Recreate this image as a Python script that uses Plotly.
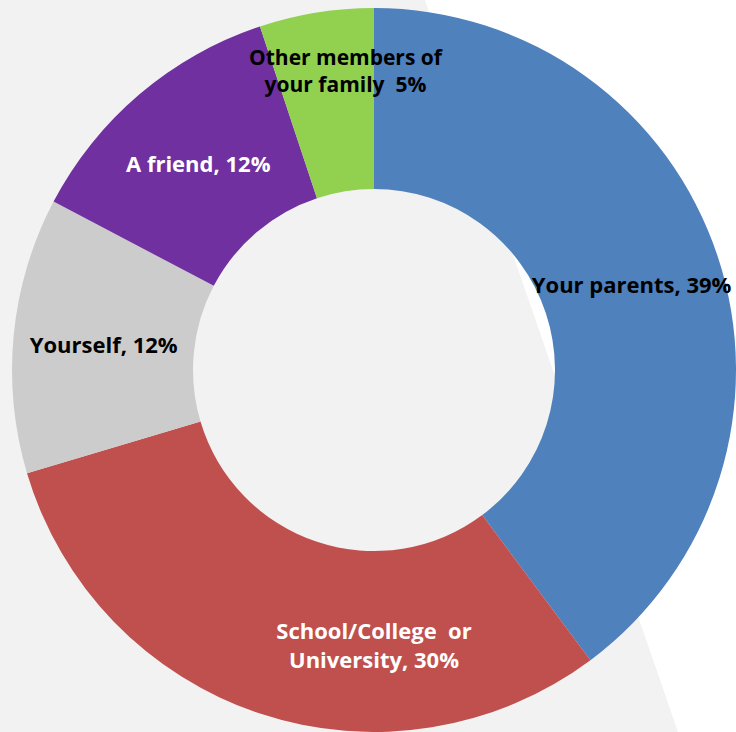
import plotly.graph_objects as go

# who did you get advice from - share of answers
categories = ["Your parents", "School/College or University", "Yourself",
              "A friend", "Other members of your family"]
values = [39.8, 30.6, 12.3, 12.2, 5.1]
slice_labels = ["Your parents, 39%", "School/College  or<br>University, 30%",
                "Yourself, 12%", "A friend, 12%",
                "Other members of<br>your family  5%"]

colors = ["#4f81bd", "#c0504d", "#cccccc", "#7030a0", "#92d050"]
text_colors = ["black", "white", "black", "white", "black"]

W, H = 736, 732
FONT = "Open Sans"
FSIZE = 22

fig = go.Figure()
fig.add_trace(go.Pie(
    labels=categories,
    values=values,
    text=slice_labels,
    textinfo="text",
    # the small slice gets its label placed by hand below
    textposition=["inside", "inside", "inside", "inside", "none"],
    insidetextorientation="horizontal",
    insidetextfont=dict(family=FONT, size=FSIZE, color=text_colors, weight="bold"),
    marker=dict(colors=colors, line=dict(width=0)),
    hole=0.5,
    sort=False,
    direction="clockwise",
    rotation=0,
    hoverinfo="none",
    showlegend=False,
    domain=dict(x=[12 / W, 1.0], y=[0.0, 1 - 8 / H]),
))

# white panel behind the right side of the chart
fig.add_shape(type="path", xref="paper", yref="paper",
              path="M %f 1 L 1 1 L 1 0 L %f 0 Z" % (425 / W, 678 / W),
              fillcolor="white", line=dict(width=0), layer="below")

fig.add_annotation(x=346 / W, y=1 - 70 / H, xref="paper", yref="paper",
                   text="<b>" + slice_labels[4] + "</b>", showarrow=False,
                   font=dict(family=FONT, size=FSIZE - 1, color="black"),
                   xanchor="center", yanchor="middle")

fig.update_layout(
    width=W, height=H,
    margin=dict(l=0, r=0, t=0, b=0),
    paper_bgcolor="#f2f2f2",
    plot_bgcolor="#f2f2f2",
    uniformtext=dict(minsize=FSIZE, mode="show"),
)

# drop the default page margin so the chart sits flush in the window
fig.write_html("out.html",
               config={"displayModeBar": False},
               post_script="document.body.style.margin='0';"
                           "document.body.style.overflow='hidden';")
